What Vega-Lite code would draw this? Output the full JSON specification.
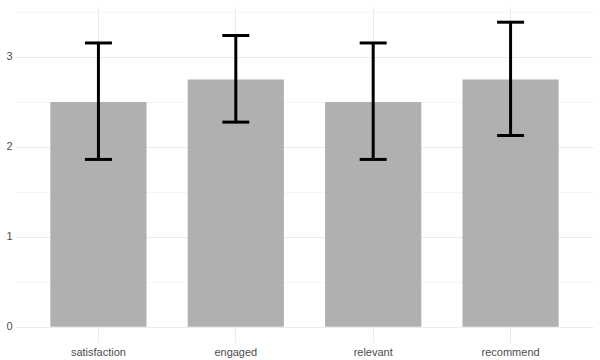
{
  "$schema": "https://vega.github.io/schema/vega-lite/v6.json",
  "autosize": {"type": "none"},
  "padding": {"left": 16, "top": 7, "right": 7, "bottom": 18},
  "width": 577,
  "height": 335,
  "background": "white",
  "config": {
    "view": {"stroke": null},
    "axis": {
      "labelFont": "Liberation Sans",
      "labelFontSize": 11,
      "labelColor": "#4D4D4D",
      "domain": false,
      "ticks": false,
      "title": null,
      "gridColor": "#EBEBEB"
    }
  },
  "data": {
    "values": [
      {"item": "satisfaction", "mean": 2.5, "lo": 1.86, "hi": 3.155},
      {"item": "engaged", "mean": 2.75, "lo": 2.275, "hi": 3.238},
      {"item": "relevant", "mean": 2.5, "lo": 1.86, "hi": 3.155},
      {"item": "recommend", "mean": 2.75, "lo": 2.126, "hi": 3.386}
    ]
  },
  "encoding": {
    "x": {
      "field": "item",
      "type": "nominal",
      "sort": null,
      "scale": {"paddingInner": 0.3, "paddingOuter": 0.25},
      "axis": {"labelAngle": 0, "grid": true, "gridWidth": 1, "labelPadding": 4, "bandPosition": 0.5}
    }
  },
  "layer": [
    {
      "mark": {"type": "bar", "color": "#B0B0B0"},
      "encoding": {
        "y": {
          "field": "mean",
          "type": "quantitative",
          "scale": {"domain": [-0.17, 3.555], "nice": false, "zero": false},
          "axis": {
            "values": [0, 0.5, 1, 1.5, 2, 2.5, 3, 3.5],
            "format": "~g",
            "labelExpr": "datum.value % 1 ? '' : datum.label",
            "gridWidth": {"condition": {"test": "datum.value % 1 !== 0", "value": 0.5}, "value": 1},
            "labelPadding": 4
          }
        }
      }
    },
    {
      "mark": {"type": "rule", "color": "black", "strokeWidth": 3},
      "encoding": {
        "y": {"field": "lo", "type": "quantitative"},
        "y2": {"field": "hi"}
      }
    },
    {
      "mark": {"type": "tick", "color": "black", "opacity": 1, "thickness": 3, "size": 27, "orient": "horizontal"},
      "encoding": {"y": {"field": "lo", "type": "quantitative"}}
    },
    {
      "mark": {"type": "tick", "color": "black", "opacity": 1, "thickness": 3, "size": 27, "orient": "horizontal"},
      "encoding": {"y": {"field": "hi", "type": "quantitative"}}
    }
  ]
}
